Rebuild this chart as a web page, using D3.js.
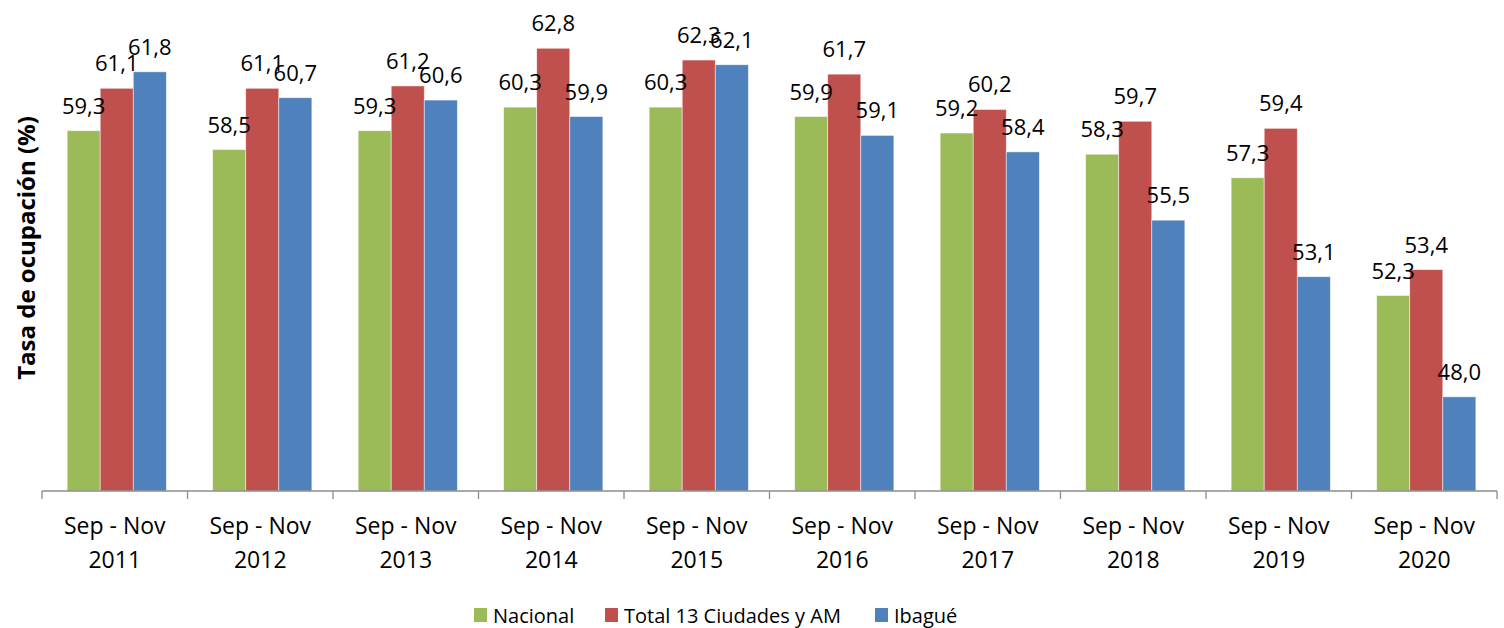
<!DOCTYPE html>
<html>
<head>
<meta charset="utf-8">
<script src="https://cdn.jsdelivr.net/npm/d3@7"></script>
<style>
  body { margin: 0; background: #fff; }
  text { font-family: "Open Sans", Lato, sans-serif; fill: #000; }
</style>
</head>
<body>
<svg id="chart" width="1504" height="628"></svg>
<script>
// Data
const periods = ["2011", "2012", "2013", "2014", "2015", "2016", "2017", "2018", "2019", "2020"];
const seriesNames = ["Nacional", "Total 13 Ciudades y AM", "Ibagué"];
const nacional = [59.3, 58.5, 59.3, 60.3, 60.3, 59.9, 59.2, 58.3, 57.3, 52.3];
const total13 = [61.1, 61.1, 61.2, 62.8, 62.3, 61.7, 60.2, 59.7, 59.4, 53.4];
const ibague = [61.8, 60.7, 60.6, 59.9, 62.1, 59.1, 58.4, 55.5, 53.1, 48.0];
const colors = ["#9BBB59", "#C0504D", "#4F81BD"];

const margin = { top: 20, right: 7, bottom: 137, left: 42 };
const width = 1504, height = 628;
const chartW = width - margin.left - margin.right;
const chartH = height - margin.top - margin.bottom;

const svg = d3.select("#chart");
const chart = svg.append("g")
	.attr("transform", "translate(" + margin.left + "," + margin.top + ")");

const rows = periods.map(function(p, i) {
	return { key: p, values: [nacional[i], total13[i], ibague[i]] };
});

// Scales
const xScale = d3.scaleBand()
	.domain(periods)
	.range([0, chartW])
	.paddingInner(0)
	.paddingOuter(0);

const xInner = d3.scaleBand()
	.domain(seriesNames)
	.range([0, xScale.bandwidth()])
	.paddingInner(0)
	.paddingOuter(0.7);

const yScale = d3.scaleLinear()
	.domain([44, 64])
	.range([chartH, 0]);

// Bars
const groups = chart.selectAll(".seriesGroup")
	.data(rows)
	.enter().append("g")
	.attr("class", "seriesGroup")
	.attr("transform", function(d) { return "translate(" + (xScale(d.key) + 2) + ",0)"; });

groups.selectAll("rect")
	.data(function(d) { return d.values.map(function(v, j) { return { name: seriesNames[j], value: v, j: j }; }); })
	.enter().append("rect")
	.attr("x", function(d) { return xInner(d.name); })
	.attr("y", function(d) { return yScale(d.value); })
	.attr("width", xInner.bandwidth())
	.attr("height", function(d) { return chartH - yScale(d.value); })
	.attr("fill", function(d) { return colors[d.j]; })
	.attr("stroke", "rgba(255,255,255,0.6)")
	.attr("stroke-width", 0.8);

// Value labels (they overlap in places, as in the original)
groups.selectAll(".label")
	.data(function(d) { return d.values.map(function(v, j) { return { name: seriesNames[j], value: v }; }); })
	.enter().append("text")
	.attr("class", "label")
	.attr("x", function(d) { return xInner(d.name) + xInner.bandwidth() / 2; })
	.attr("y", function(d) { return yScale(d.value) - 17; })
	.attr("text-anchor", "middle")
	.style("font-size", "22px")
	.text(function(d) { return d3.format(".1f")(d.value).replace(".", ","); });

// X axis
const xAxis = chart.append("g")
	.attr("transform", "translate(0," + chartH + ")");

xAxis.append("line")
	.attr("x1", 0).attr("x2", chartW)
	.attr("stroke", "#8c8c8c").attr("stroke-width", 1.3);

xAxis.selectAll(".tick")
	.data(periods.concat(["end"]))
	.enter().append("line")
	.attr("x1", function(d, i) { return i * xScale.step(); })
	.attr("x2", function(d, i) { return i * xScale.step(); })
	.attr("y1", 0).attr("y2", 8)
	.attr("stroke", "#8c8c8c").attr("stroke-width", 1.3);

const xLabels = xAxis.selectAll(".xlabel")
	.data(periods)
	.enter().append("text")
	.attr("text-anchor", "middle")
	.attr("transform", function(d) { return "translate(" + (xScale(d) + xScale.bandwidth() / 2) + ",0)"; })
	.style("font-size", "23px");

xLabels.append("tspan").attr("x", 0).attr("y", 43).text("Sep - Nov");
xLabels.append("tspan").attr("x", 0).attr("y", 77).text(function(d) { return d; });

// Y axis title
svg.append("text")
	.attr("transform", "translate(35,248) rotate(-90)")
	.attr("text-anchor", "middle")
	.style("font-size", "24px")
	.style("font-weight", "bold")
	.text("Tasa de ocupación (%)");

// Legend
const legendItems = [
	{ name: seriesNames[0], x: 474 },
	{ name: seriesNames[1], x: 605 },
	{ name: seriesNames[2], x: 875 }
];
const legend = svg.append("g").attr("transform", "translate(0,615)");
const li = legend.selectAll("g")
	.data(legendItems)
	.enter().append("g")
	.attr("transform", function(d) { return "translate(" + d.x + ",0)"; });
li.append("rect")
	.attr("x", 0).attr("y", -7)
	.attr("width", 13).attr("height", 14)
	.attr("fill", function(d, i) { return colors[i]; });
li.append("text")
	.attr("x", 19).attr("y", 8)
	.style("font-size", "20px")
	.text(function(d) { return d.name; });
</script>
</body>
</html>
